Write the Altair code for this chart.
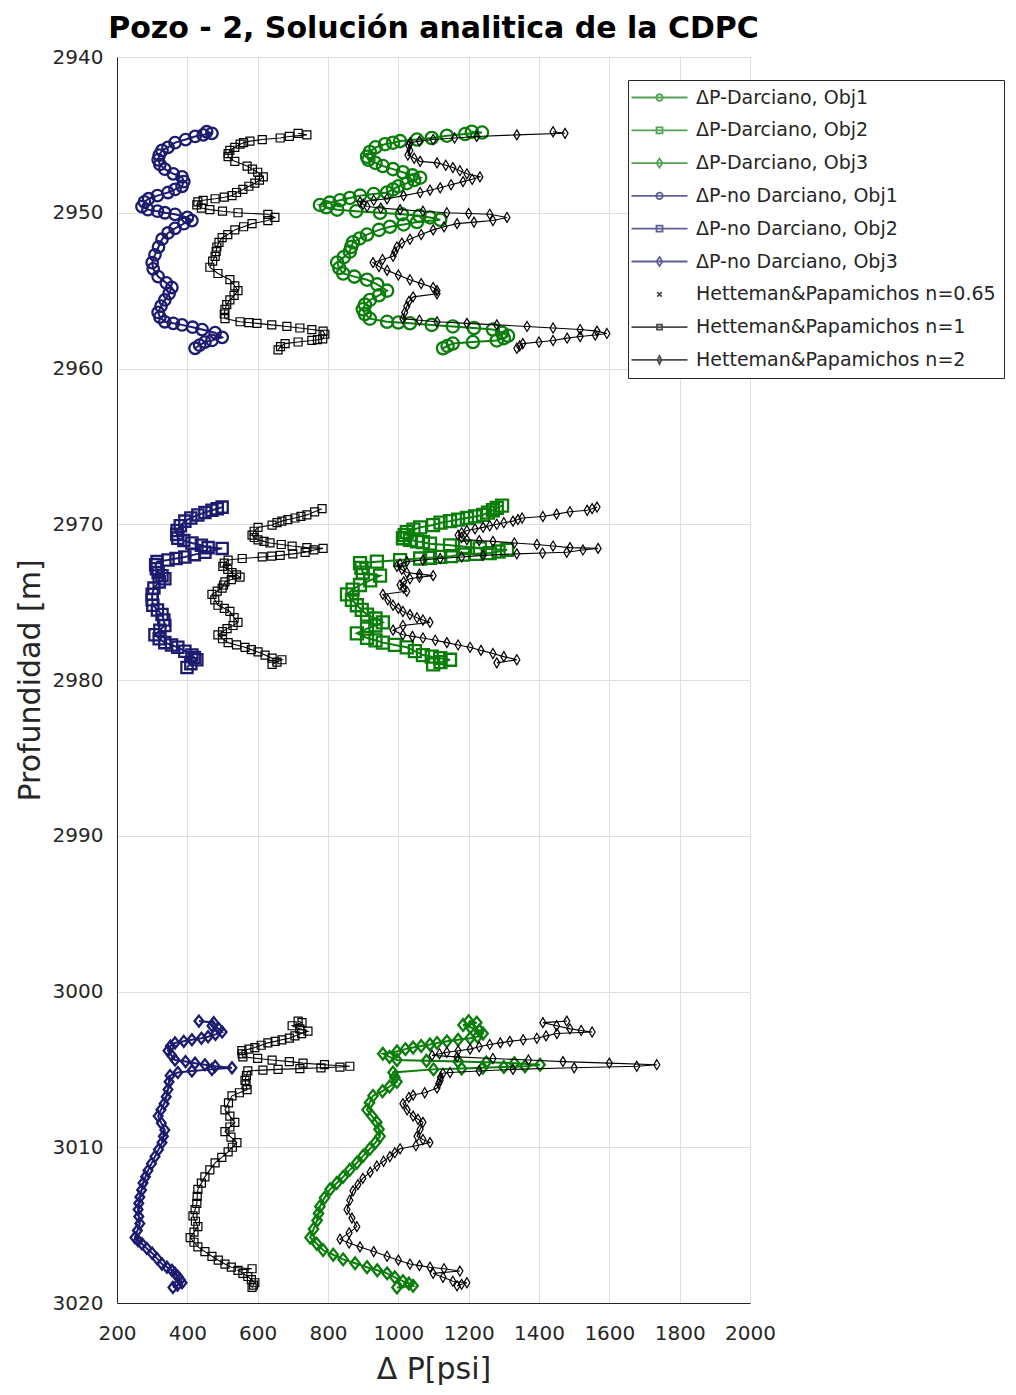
import altair as alt
import pandas as pd

# ---------------- data (depth [m], ΔP [psi]) ----------------
S_DAR1 = "ΔP-Darciano, Obj1"
S_DAR2 = "ΔP-Darciano, Obj2"
S_DAR3 = "ΔP-Darciano, Obj3"
S_ND1 = "ΔP-no Darciano, Obj1"
S_ND2 = "ΔP-no Darciano, Obj2"
S_ND3 = "ΔP-no Darciano, Obj3"
S_H065 = "Hetteman&Papamichos n=0.65"
S_H1 = "Hetteman&Papamichos n=1"
S_H2 = "Hetteman&Papamichos n=2"
SERIES = [S_DAR1, S_DAR2, S_DAR3, S_ND1, S_ND2, S_ND3, S_H065, S_H1, S_H2]

# ---- interval 1 (2945-2959 m) ----
ND1_SEC1 = [(2944.8, 455), (2944.9, 470), (2945.0, 445), (2945.1, 422), (2945.3, 395), (2945.5, 365),
            (2945.8, 345), (2946.0, 328), (2946.3, 320), (2946.6, 317), (2946.9, 322), (2947.2, 336),
            (2947.5, 360), (2947.7, 385), (2948.0, 390), (2948.3, 385), (2948.5, 365), (2948.7, 345),
            (2948.9, 315), (2949.1, 290), (2949.3, 278), (2949.6, 271), (2949.8, 288), (2949.9, 315),
            (2950.0, 336), (2950.1, 365), (2950.3, 400), (2950.5, 413), (2950.7, 390), (2951.0, 365),
            (2951.3, 345), (2951.7, 328), (2952.2, 318), (2952.7, 308), (2953.2, 300), (2953.6, 303),
            (2954.1, 317), (2954.5, 340), (2954.8, 356), (2955.2, 348), (2955.6, 336), (2956.0, 325),
            (2956.4, 317), (2956.7, 322), (2957.0, 336), (2957.1, 360), (2957.2, 385), (2957.35, 415),
            (2957.5, 442), (2957.7, 479), (2958.0, 499), (2958.2, 470), (2958.3, 450), (2958.5, 435),
            (2958.7, 422)]

DAR1_SEC1 = [(2944.8, 1209), (2944.85, 1238), (2944.95, 1190), (2945.05, 1138), (2945.2, 1095),
             (2945.3, 1053), (2945.4, 1005), (2945.5, 985), (2945.6, 962), (2945.8, 935), (2946.1, 919),
             (2946.4, 911), (2946.6, 915), (2946.8, 935), (2947.0, 956), (2947.2, 985), (2947.4, 1013),
             (2947.6, 1040), (2947.75, 1062), (2947.9, 1045), (2948.1, 1024), (2948.3, 1000),
             (2948.5, 985), (2948.7, 968), (2948.8, 930), (2948.9, 891), (2949.05, 862), (2949.2, 834),
             (2949.35, 805), (2949.5, 777), (2949.65, 795), (2949.8, 826), (2949.9, 880), (2950.0, 948),
             (2950.1, 1010), (2950.2, 1060), (2950.3, 1090), (2950.45, 1119), (2950.6, 1053),
             (2950.75, 1015), (2950.9, 976), (2951.1, 945), (2951.4, 911), (2951.65, 890), (2951.9, 871),
             (2952.2, 866), (2952.5, 862), (2952.85, 845), (2953.2, 826), (2953.55, 832), (2953.9, 843),
             (2954.1, 875), (2954.3, 911), (2954.6, 940), (2955.0, 968), (2955.3, 945), (2955.6, 919),
             (2955.9, 905), (2956.2, 899), (2956.5, 905), (2956.8, 919), (2957.0, 968), (2957.05, 1000),
             (2957.1, 1033), (2957.2, 1095), (2957.3, 1155), (2957.4, 1215), (2957.5, 1269),
             (2957.7, 1295), (2957.9, 1312), (2958.05, 1300), (2958.2, 1280), (2958.3, 1212),
             (2958.4, 1155), (2958.55, 1140), (2958.7, 1127)]

H1_SEC1 = [(2944.9, 715), (2945.0, 740), (2945.1, 690), (2945.2, 664), (2945.3, 613), (2945.4, 578),
           (2945.5, 560), (2945.6, 550), (2945.8, 535), (2946.0, 521), (2946.2, 516), (2946.4, 516),
           (2946.7, 535), (2947.0, 570), (2947.2, 585), (2947.4, 600), (2947.7, 616), (2947.9, 605),
           (2948.1, 592), (2948.3, 575), (2948.5, 558), (2948.7, 540), (2948.9, 527), (2949.0, 505),
           (2949.1, 479), (2949.2, 445), (2949.3, 430), (2949.5, 427), (2949.7, 440), (2949.8, 464),
           (2949.9, 500), (2950.0, 544), (2950.1, 629), (2950.3, 649), (2950.5, 629), (2950.7, 584),
           (2950.9, 560), (2951.1, 535), (2951.4, 515), (2951.6, 499), (2951.9, 490), (2952.2, 484),
           (2952.5, 482), (2952.8, 479), (2953.1, 472), (2953.5, 464), (2953.9, 487), (2954.3, 521),
           (2954.7, 535), (2955.0, 544), (2955.3, 533), (2955.6, 521), (2955.9, 512), (2956.2, 507),
           (2956.5, 505), (2956.8, 507), (2957.0, 550), (2957.05, 575), (2957.1, 598), (2957.2, 640),
           (2957.3, 683), (2957.4, 720), (2957.5, 754), (2957.6, 786), (2957.8, 791), (2958.1, 785),
           (2958.15, 770), (2958.2, 754), (2958.3, 715), (2958.4, 678), (2958.6, 665), (2958.8, 658)]

H2_SEC1 = [(2944.8, 1440), (2944.9, 1474), (2945.0, 1337), (2945.1, 1223), (2945.2, 1160), (2945.3, 1099),
           (2945.4, 1060), (2945.5, 1033), (2945.7, 1030), (2946.0, 1033), (2946.3, 1027), (2946.5, 1045),
           (2946.7, 1062), (2946.8, 1110), (2946.95, 1135), (2947.1, 1155), (2947.3, 1175), (2947.5, 1195),
           (2947.7, 1232), (2947.85, 1210), (2948.0, 1184), (2948.2, 1150), (2948.4, 1119), (2948.55, 1090),
           (2948.7, 1062), (2948.9, 1015), (2949.1, 968), (2949.2, 930), (2949.3, 891), (2949.45, 900),
           (2949.6, 911), (2949.7, 950), (2949.8, 1005), (2949.9, 1070), (2950.0, 1138), (2950.05, 1200),
           (2950.1, 1260), (2950.3, 1309), (2950.5, 1269), (2950.6, 1215), (2950.7, 1167), (2950.9, 1130),
           (2951.1, 1099), (2951.4, 1065), (2951.7, 1033), (2951.95, 1010), (2952.2, 996), (2952.5, 990),
           (2952.8, 985), (2953.0, 955), (2953.2, 928), (2953.45, 945), (2953.7, 968), (2954.0, 1000),
           (2954.3, 1033), (2954.55, 1065), (2954.8, 1099), (2955.0, 1110), (2955.2, 1110), (2955.4, 1042),
           (2955.7, 1030), (2956.0, 1024), (2956.4, 1018), (2956.8, 1013), (2956.9, 1060), (2957.0, 1110),
           (2957.1, 1195), (2957.2, 1280), (2957.3, 1366), (2957.4, 1440), (2957.5, 1517), (2957.6, 1565),
           (2957.75, 1593), (2957.85, 1560), (2957.95, 1517), (2958.05, 1480), (2958.2, 1440),
           (2958.3, 1400), (2958.4, 1354), (2958.55, 1345), (2958.7, 1337)]

# ---- interval 2 (2969-2979 m) ----
ND2_SEC2 = [(2968.9, 499), (2969.0, 485), (2969.1, 470), (2969.25, 450), (2969.4, 430), (2969.6, 410),
            (2969.8, 393), (2970.1, 380), (2970.4, 371), (2970.65, 370), (2970.9, 373), (2971.05, 390),
            (2971.2, 413), (2971.35, 440), (2971.5, 459), (2971.55, 499), (2971.8, 450), (2971.95, 420),
            (2972.1, 393), (2972.2, 368), (2972.3, 345), (2972.4, 314), (2972.6, 310), (2972.85, 312),
            (2973.1, 317), (2973.3, 328), (2973.5, 336), (2973.7, 320), (2974.1, 305), (2974.5, 300),
            (2974.85, 300), (2975.2, 302), (2975.5, 315), (2975.8, 328), (2976.15, 333), (2976.5, 336),
            (2976.8, 322), (2977.1, 308), (2977.35, 320), (2977.6, 336), (2977.75, 355), (2977.9, 373),
            (2978.15, 393), (2978.4, 413), (2978.55, 420), (2978.7, 427), (2978.95, 410), (2979.2, 399)]

DAR2_SEC2 = [(2968.8, 1295), (2968.95, 1280), (2969.1, 1269), (2969.25, 1255), (2969.4, 1241),
             (2969.5, 1218), (2969.6, 1195), (2969.7, 1170), (2969.8, 1147), (2969.9, 1120),
             (2970.05, 1099), (2970.2, 1062), (2970.35, 1043), (2970.5, 1024), (2970.7, 1018),
             (2970.9, 1013), (2971.0, 1033), (2971.1, 1053), (2971.15, 1070), (2971.25, 1090),
             (2971.35, 1147), (2971.45, 1190), (2971.55, 1232), (2971.65, 1309), (2971.75, 1285),
             (2971.85, 1260), (2971.9, 1220), (2971.95, 1184), (2972.05, 1150), (2972.1, 1119),
             (2972.15, 1090), (2972.2, 1062), (2972.3, 1005), (2972.4, 939), (2972.5, 891),
             (2972.8, 895), (2973.1, 899), (2973.3, 948), (2973.6, 920), (2973.9, 891), (2974.2, 870),
             (2974.5, 854), (2974.85, 868), (2975.2, 882), (2975.5, 896), (2975.8, 911), (2976.05, 935),
             (2976.3, 956), (2976.5, 935), (2976.7, 911), (2977.0, 882), (2977.3, 911), (2977.45, 935),
             (2977.6, 956), (2977.75, 990), (2977.9, 1024), (2978.15, 1047), (2978.4, 1070),
             (2978.5, 1095), (2978.6, 1119), (2978.7, 1147), (2978.85, 1120), (2979.0, 1099)]

H1_SEC2 = [(2969.0, 783), (2969.2, 762), (2969.4, 740), (2969.5, 723), (2969.6, 706), (2969.7, 686),
           (2969.8, 669), (2969.9, 655), (2970.05, 641), (2970.2, 601), (2970.45, 590), (2970.7, 584),
           (2970.85, 590), (2971.0, 601), (2971.1, 618), (2971.2, 635), (2971.3, 667), (2971.4, 698),
           (2971.5, 740), (2971.55, 786), (2971.65, 760), (2971.8, 735), (2971.9, 700), (2972.0, 664),
           (2972.05, 640), (2972.1, 613), (2972.2, 556), (2972.3, 516), (2972.5, 505), (2972.7, 501),
           (2972.9, 515), (2973.1, 527), (2973.25, 540), (2973.4, 550), (2973.55, 525), (2973.7, 507),
           (2973.9, 503), (2974.1, 499), (2974.3, 485), (2974.5, 470), (2974.85, 478), (2975.2, 487),
           (2975.4, 505), (2975.6, 521), (2976.0, 533), (2976.3, 544), (2976.5, 530), (2976.7, 513),
           (2976.9, 500), (2977.1, 487), (2977.35, 500), (2977.6, 516), (2977.75, 540), (2977.9, 564),
           (2978.05, 582), (2978.2, 601), (2978.4, 621), (2978.6, 641), (2978.7, 669), (2978.85, 655),
           (2979.0, 641)]

H2_SEC2 = [(2968.9, 1565), (2969.0, 1551), (2969.1, 1537), (2969.2, 1488), (2969.35, 1450), (2969.5, 1411),
           (2969.6, 1352), (2969.7, 1340), (2969.8, 1326), (2969.9, 1300), (2970.0, 1280), (2970.1, 1260),
           (2970.2, 1241), (2970.3, 1218), (2970.4, 1195), (2970.55, 1180), (2970.7, 1170), (2970.85, 1180),
           (2971.0, 1195), (2971.05, 1230), (2971.1, 1269), (2971.2, 1330), (2971.3, 1394), (2971.4, 1440),
           (2971.5, 1488), (2971.55, 1568), (2971.65, 1525), (2971.8, 1479), (2971.85, 1410), (2971.9, 1337),
           (2972.0, 1241), (2972.1, 1180), (2972.2, 1119), (2972.3, 1070), (2972.4, 1024), (2972.55, 1005),
           (2972.7, 996), (2972.9, 1010), (2973.1, 1024), (2973.2, 1060), (2973.3, 1099), (2973.4, 1060),
           (2973.5, 1033), (2973.7, 1015), (2973.9, 1005), (2974.1, 1015), (2974.3, 1024), (2974.5, 956),
           (2974.85, 970), (2975.2, 985), (2975.4, 1000), (2975.6, 1013), (2975.8, 1033), (2976.0, 1053),
           (2976.15, 1070), (2976.3, 1090), (2976.5, 1013), (2976.8, 985), (2977.1, 1013), (2977.2, 1040),
           (2977.3, 1070), (2977.45, 1105), (2977.6, 1138), (2977.75, 1170), (2977.9, 1204), (2978.1, 1235),
           (2978.3, 1269), (2978.5, 1300), (2978.7, 1337), (2978.9, 1280)]

# ---- interval 3 (3002-3019 m) ----
ND3_SEC3 = [(3001.9, 433), (3002.0, 475), (3002.2, 470), (3002.4, 490), (3002.6, 499), (3002.75, 480),
            (3002.9, 459), (3003.0, 440), (3003.1, 413), (3003.2, 390), (3003.3, 365), (3003.5, 352),
            (3003.8, 345), (3004.1, 355), (3004.4, 365), (3004.5, 395), (3004.6, 422), (3004.7, 450),
            (3004.8, 479), (3004.9, 527), (3005.0, 470), (3005.1, 413), (3005.2, 373), (3005.4, 351),
            (3005.8, 348), (3006.3, 345), (3006.75, 340), (3007.2, 334), (3007.6, 325), (3008.0, 317),
            (3008.45, 326), (3008.9, 336), (3009.3, 332), (3009.7, 328), (3010.15, 318), (3010.6, 308),
            (3011.05, 298), (3011.5, 288), (3011.9, 281), (3012.3, 274), (3012.75, 270), (3013.2, 265),
            (3013.6, 262), (3014.0, 260), (3014.45, 262), (3014.9, 265), (3015.35, 258), (3015.8, 251),
            (3016.0, 260), (3016.2, 271), (3016.5, 285), (3016.8, 300), (3017.15, 314), (3017.5, 328),
            (3017.7, 342), (3017.9, 356), (3018.1, 365), (3018.3, 373), (3018.5, 380), (3018.7, 385),
            (3018.85, 372), (3019.0, 359)]

DAR3_SEC3 = [(3001.9, 1200), (3002.0, 1223), (3002.15, 1184), (3002.3, 1205), (3002.5, 1230), (3002.7, 1241),
             (3002.9, 1225), (3003.0, 1204), (3003.1, 1170), (3003.2, 1138), (3003.3, 1110), (3003.4, 1090),
             (3003.5, 1065), (3003.6, 1042), (3003.7, 1020), (3003.85, 996), (3004.0, 956), (3004.2, 975),
             (3004.4, 996), (3004.45, 1080), (3004.5, 1170), (3004.55, 1250), (3004.6, 1330), (3004.7, 1403),
             (3004.8, 1360), (3004.85, 1300), (3004.9, 1240), (3004.95, 1180), (3005.0, 1100), (3005.2, 985),
             (3005.5, 990), (3005.8, 996), (3006.1, 975), (3006.4, 955), (3006.7, 928), (3007.15, 918),
             (3007.6, 911), (3008.0, 925), (3008.4, 939), (3008.85, 945), (3009.3, 948), (3009.7, 935),
             (3010.1, 919), (3010.55, 900), (3011.0, 882), (3011.45, 862), (3011.9, 843), (3012.3, 825),
             (3012.7, 806), (3013.25, 790), (3013.8, 777), (3014.25, 773), (3014.7, 769), (3015.25, 759),
             (3015.8, 749), (3016.2, 768), (3016.6, 786), (3016.9, 815), (3017.2, 843), (3017.45, 877),
             (3017.7, 911), (3017.9, 940), (3018.1, 968), (3018.35, 990), (3018.6, 1013), (3018.75, 1030),
             (3018.9, 1042), (3019.0, 996)]

H1_SEC3 = [(3001.9, 715), (3002.0, 726), (3002.2, 698), (3002.4, 720), (3002.55, 743), (3002.7, 725),
           (3002.85, 706), (3003.0, 690), (3003.1, 669), (3003.2, 650), (3003.3, 629), (3003.45, 610),
           (3003.6, 592), (3003.7, 575), (3003.8, 555), (3004.0, 556), (3004.2, 558), (3004.3, 600),
           (3004.4, 641), (3004.5, 690), (3004.6, 729), (3004.7, 790), (3004.8, 862), (3004.85, 834),
           (3004.9, 780), (3004.95, 720), (3005.0, 658), (3005.05, 615), (3005.1, 572), (3005.4, 568),
           (3005.7, 564), (3006.0, 567), (3006.3, 570), (3006.5, 548), (3006.7, 527), (3007.15, 517),
           (3007.6, 507), (3008.0, 521), (3008.4, 535), (3008.7, 521), (3009.0, 507), (3009.35, 524),
           (3009.7, 541), (3010.0, 528), (3010.3, 516), (3010.65, 498), (3011.0, 479), (3011.45, 464),
           (3011.9, 450), (3012.3, 440), (3012.7, 430), (3013.15, 428), (3013.6, 427), (3014.0, 422),
           (3014.4, 416), (3014.75, 423), (3015.1, 430), (3015.45, 419), (3015.8, 408), (3016.1, 419),
           (3016.4, 430), (3016.7, 450), (3017.0, 470), (3017.25, 488), (3017.5, 507), (3017.7, 525),
           (3017.8, 584), (3017.9, 544), (3018.1, 558), (3018.3, 572), (3018.5, 582), (3018.7, 592),
           (3018.85, 588), (3019.0, 584)]

H2_SEC3 = [(3001.9, 1479), (3002.0, 1411), (3002.2, 1450), (3002.4, 1488), (3002.5, 1520), (3002.6, 1551),
           (3002.7, 1451), (3002.85, 1420), (3003.0, 1394), (3003.1, 1355), (3003.2, 1317), (3003.3, 1290),
           (3003.4, 1260), (3003.55, 1230), (3003.7, 1204), (3003.8, 1170), (3003.9, 1138), (3004.0, 1117),
           (3004.1, 1096), (3004.2, 1167), (3004.3, 1269), (3004.4, 1370), (3004.5, 1468), (3004.6, 1600),
           (3004.7, 1735), (3004.8, 1678), (3004.9, 1500), (3005.0, 1326), (3005.1, 1230), (3005.2, 1147),
           (3005.25, 1127), (3005.5, 1120), (3005.7, 1119), (3005.9, 1115), (3006.2, 1110), (3006.5, 1075),
           (3006.65, 1042), (3006.8, 1030), (3007.2, 1013), (3007.6, 1025), (3008.0, 1042), (3008.2, 1056),
           (3008.4, 1070), (3008.85, 1062), (3009.3, 1053), (3009.5, 1070), (3009.7, 1090), (3009.9, 1050),
           (3010.1, 1005), (3010.35, 990), (3010.6, 976), (3010.9, 958), (3011.2, 939), (3011.6, 920),
           (3012.0, 899), (3012.4, 885), (3012.8, 871), (3013.4, 862), (3014.0, 854), (3014.55, 868),
           (3015.1, 882), (3015.5, 860), (3015.9, 834), (3016.15, 860), (3016.4, 891), (3016.7, 930),
           (3017.0, 968), (3017.25, 1000), (3017.5, 1033), (3017.6, 1060), (3017.7, 1090), (3017.8, 1130),
           (3017.95, 1175), (3018.1, 1099), (3018.35, 1127), (3018.6, 1155), (3018.7, 1195), (3018.8, 1180),
           (3018.9, 1167)]

TRACES = [
    (S_DAR1, "i1", DAR1_SEC1), (S_DAR2, "i2", DAR2_SEC2), (S_DAR3, "i3", DAR3_SEC3),
    (S_ND1, "i1", ND1_SEC1), (S_ND2, "i2", ND2_SEC2), (S_ND3, "i3", ND3_SEC3),
    (S_H1, "i1", H1_SEC1), (S_H1, "i2", H1_SEC2), (S_H1, "i3", H1_SEC3),
    (S_H2, "i1", H2_SEC1), (S_H2, "i2", H2_SEC2), (S_H2, "i3", H2_SEC3),
]

X_TICKS = [200, 400, 600, 800, 1000, 1200, 1400, 1600, 1800, 2000]
Y_TICKS = [2940, 2950, 2960, 2970, 2980, 2990, 3000, 3010, 3020]

rows = []
for name, seg, pts in TRACES:
    for i, (d, p) in enumerate(pts):
        rows.append({"series": name, "grp": name + "|" + seg, "idx": i, "depth": d, "dp": p})
df = pd.DataFrame(rows)

# ---------------- styles ----------------
GREEN = "#0b7d0b"
NAVY = "#1b1b6f"
BLACK = "#000000"
FONT = "DejaVu Sans"
TXT = "#262626"

COLORED = [S_DAR1, S_DAR2, S_DAR3, S_ND1, S_ND2, S_ND3]
BLACKS = [S_H1, S_H2]

DIAMOND = "M0,-1L0.8,0L0,1L-0.8,0Z"
THIN_DIAMOND = "M0,-1L0.6,0L0,1L-0.6,0Z"

W, H = 633, 1246

xenc = alt.X("dp:Q", scale=alt.Scale(domain=[200, 2000], nice=False, zero=False),
             axis=alt.Axis(values=X_TICKS, format="d", title="Δ P[psi]", grid=True,
                           gridColor="#dedede", ticks=False, labelFont=FONT, labelFontSize=20,
                           labelColor=TXT, labelPadding=20, titleFont=FONT, titleFontSize=30,
                           titleFontWeight="normal", titleColor=TXT, titlePadding=11,
                           domainColor=TXT, labelFlush=False))
yenc = alt.Y("depth:Q", scale=alt.Scale(domain=[2940, 3020], reverse=True, nice=False, zero=False),
             axis=alt.Axis(values=Y_TICKS, format="d", title="Profundidad [m]", grid=True,
                           gridColor="#dedede", ticks=False, labelFont=FONT, labelFontSize=20,
                           labelColor=TXT, labelPadding=14, titleFont=FONT, titleFontSize=30,
                           titleFontWeight="normal", titleColor=TXT, titlePadding=7,
                           domainColor=TXT, labelFlush=False))

base = alt.Chart(df)

col_lines = base.transform_filter(
    alt.FieldOneOfPredicate(field="series", oneOf=COLORED)
).mark_line(strokeWidth=2).encode(
    x=xenc, y=yenc,
    color=alt.Color("series:N", scale=alt.Scale(domain=COLORED, range=[GREEN] * 3 + [NAVY] * 3), legend=None),
    detail="grp:N", order="idx:Q",
)

col_points = base.transform_filter(
    alt.FieldOneOfPredicate(field="series", oneOf=COLORED)
).mark_point(filled=False, strokeWidth=2.3, opacity=1).encode(
    x=xenc, y=yenc,
    color=alt.Color("series:N", scale=alt.Scale(domain=COLORED, range=[GREEN] * 3 + [NAVY] * 3), legend=None),
    shape=alt.Shape("series:N", scale=alt.Scale(domain=COLORED,
                                                range=["circle", "square", DIAMOND] * 2), legend=None),
    size=alt.Size("series:N", scale=alt.Scale(domain=COLORED, range=[150, 120, 190] * 2), legend=None),
    order="idx:Q",
)

blk_lines = base.transform_filter(
    alt.FieldOneOfPredicate(field="series", oneOf=BLACKS)
).mark_line(strokeWidth=1.1, color=BLACK).encode(
    x=xenc, y=yenc, detail="grp:N", order="idx:Q",
)

blk_points = base.transform_filter(
    alt.FieldOneOfPredicate(field="series", oneOf=BLACKS)
).mark_point(filled=False, strokeWidth=1.2, color=BLACK, opacity=1).encode(
    x=xenc, y=yenc,
    shape=alt.Shape("series:N", scale=alt.Scale(domain=BLACKS, range=["square", THIN_DIAMOND]), legend=None),
    size=alt.Size("series:N", scale=alt.Scale(domain=BLACKS, range=[64, 100]), legend=None),
    order="idx:Q",
)

# legend symbols: a line with the marker drawn in its middle (1 unit = 5 px)
LINE = "M-2.8,0H8.4"
L_CIRCLE = LINE + "M2.15,0A0.65,0.65 0 1,1 3.45,0A0.65,0.65 0 1,1 2.15,0"
L_SQUARE = LINE + "M2.2,-0.6H3.4V0.6H2.2Z"
L_DIAMOND = LINE + "M2.8,-0.9L3.4,0L2.8,0.9L2.2,0Z"
L_X = "M2.35,-0.45L3.25,0.45M2.35,0.45L3.25,-0.45"
L_SQUARE_B = LINE + "M2.3,-0.5H3.3V0.5H2.3Z"
L_DIAMOND_B = LINE + "M2.8,-0.8L3.2,0L2.8,0.8L2.4,0Z"

LEG = alt.Legend(title=None, orient="none", legendX=511, legendY=23,
                 padding=8, strokeColor=TXT, fillColor="white",
                 labelFont=FONT, labelFontSize=19, labelColor=TXT,
                 labelLimit=0, labelOffset=41, symbolSize=100,
                 symbolStrokeWidth=1.8, symbolOffset=0, rowPadding=12.8)

legend_layer = base.transform_filter("false").mark_point(filled=False, size=100, strokeWidth=1.8).encode(
    x=xenc, y=yenc,
    color=alt.Color("series:N", scale=alt.Scale(domain=SERIES,
                                                range=[GREEN] * 3 + [NAVY] * 3 + [BLACK] * 3),
                    legend=LEG),
    shape=alt.Shape("series:N", scale=alt.Scale(domain=SERIES,
                                                range=[L_CIRCLE, L_SQUARE, L_DIAMOND,
                                                       L_CIRCLE, L_SQUARE, L_DIAMOND,
                                                       L_X, L_SQUARE_B, L_DIAMOND_B]),
                    legend=LEG),
)

chart = alt.layer(col_lines, col_points, blk_lines, blk_points, legend_layer).resolve_scale(
    color="independent", shape="independent", size="independent"
).properties(
    width=W, height=H,
    title=alt.TitleParams("Pozo - 2, Solución analitica de la CDPC", font=FONT, fontSize=30,
                          fontWeight="bold", color="#000000", anchor="middle", offset=3),
    autosize=alt.AutoSizeParams(type="none"),
    padding={"left": 109, "top": 49, "right": 258, "bottom": 84},
).configure_view(
    stroke=TXT, strokeWidth=1
).configure(background="white")

chart.save("out.html", embed_options={"renderer": "svg", "actions": False})
